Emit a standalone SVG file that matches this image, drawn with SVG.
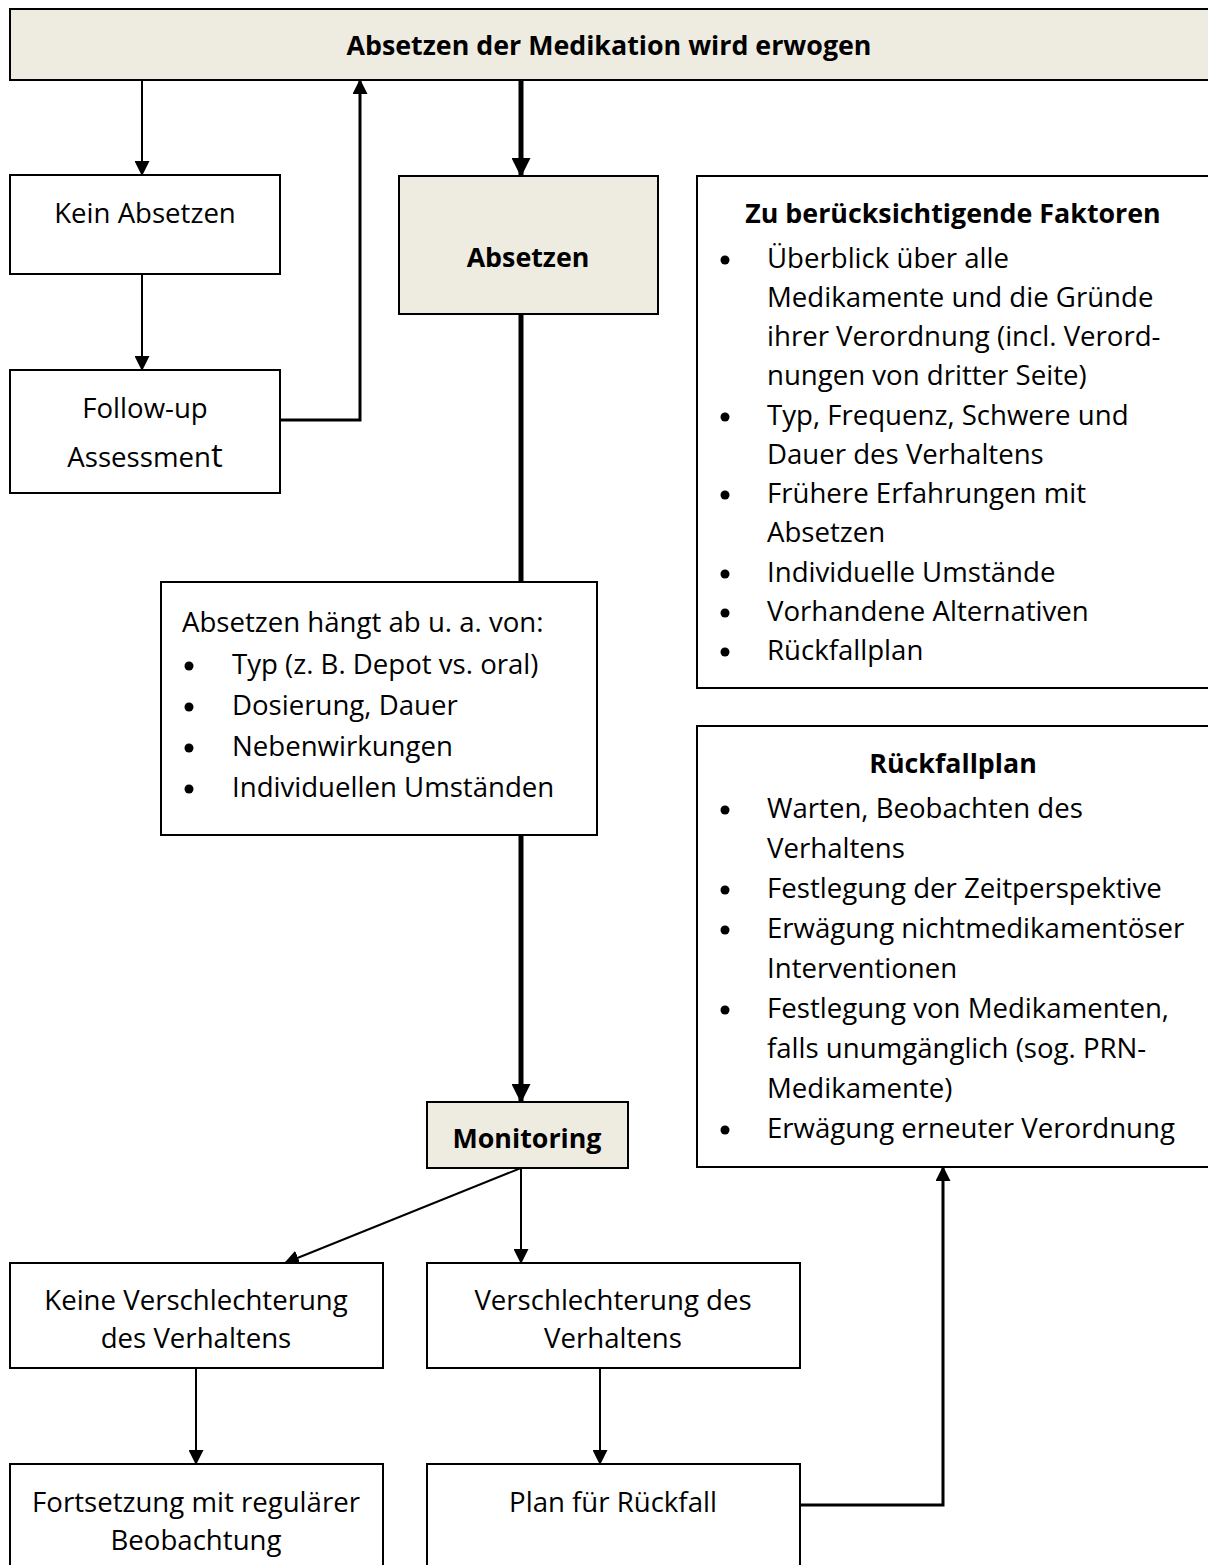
<svg xmlns="http://www.w3.org/2000/svg" width="1208" height="1565" viewBox="0 0 1208 1565">
<style>
text{font-family:"Open Sans",Lato,"Liberation Sans",sans-serif;font-size:27.6px;fill:#000}
.b{font-weight:bold;font-size:26.8px}
.c{text-anchor:middle}
.box{fill:#fff;stroke:#000;stroke-width:2}
.hl{fill:#EEECE1;stroke:#000;stroke-width:2}
.ln{fill:none;stroke:#000;stroke-width:2}
.lnm{fill:none;stroke:#000;stroke-width:3}
.th{fill:none;stroke:#000;stroke-width:5}
</style>
<defs>
<marker id="a" markerUnits="userSpaceOnUse" markerWidth="15" markerHeight="15" refX="14" refY="7.5" orient="auto"><path d="M0,0 L15,7.5 L0,15 z" fill="#000"/></marker>
<marker id="A" markerUnits="userSpaceOnUse" markerWidth="19" markerHeight="19" refX="18" refY="9.5" orient="auto"><path d="M0,0 L19,9.5 L0,19 z" fill="#000"/></marker>
</defs>
<rect width="1208" height="1565" fill="#fff"/>
<g id="connectors">
<line class="ln" x1="142" y1="80" x2="142" y2="175" marker-end="url(#a)"/>
<line class="ln" x1="142" y1="275" x2="142" y2="370" marker-end="url(#a)"/>
<polyline class="lnm" points="280,420 360,420 360,80" marker-end="url(#a)"/>
<line class="th" x1="521" y1="80" x2="521" y2="176" marker-end="url(#A)"/>
<line class="th" x1="521" y1="314" x2="521" y2="582"/>
<line class="th" x1="521" y1="835" x2="521" y2="1102" marker-end="url(#A)"/>
<line class="ln" x1="521" y1="1168" x2="285" y2="1263" marker-end="url(#a)"/>
<line class="ln" x1="521" y1="1168" x2="521" y2="1263" marker-end="url(#a)"/>
<line class="ln" x1="196" y1="1368" x2="196" y2="1464" marker-end="url(#a)"/>
<line class="ln" x1="600" y1="1368" x2="600" y2="1464" marker-end="url(#a)"/>
<polyline class="lnm" points="800,1505 943,1505 943,1167" marker-end="url(#a)"/>
</g>
<g id="n-top">
<rect class="hl" x="10" y="9" width="1210" height="71"/>
<text class="b c" x="609" y="55">Absetzen der Medikation wird erwogen</text>
</g>
<g id="n-kein">
<rect class="box" x="10" y="175" width="270" height="99"/>
<text class="c" x="145" y="223">Kein Absetzen</text>
</g>
<g id="n-followup">
<rect class="box" x="10" y="370" width="270" height="123"/>
<text class="c" x="145" y="418">Follow-up</text>
<text class="c" x="145" y="467">Assessmen<tspan style="font-size:33px">t</tspan></text>
</g>
<g id="n-absetzen">
<rect class="hl" x="399" y="176" width="259" height="138"/>
<text class="b c" x="528" y="267">Absetzen</text>
</g>
<g id="n-abhaengig">
<rect class="box" x="161" y="582" width="436" height="253"/>
<text x="182" y="632">Absetzen hängt ab u. a. von:</text>
<g>
<circle cx="189" cy="666" r="4.5"/><text x="232" y="674">Typ (z. B. Depot vs. oral)</text>
<circle cx="189" cy="707" r="4.5"/><text x="232" y="715">Dosierung, Dauer</text>
<circle cx="189" cy="748" r="4.5"/><text x="232" y="756">Nebenwirkungen</text>
<circle cx="189" cy="789" r="4.5"/><text x="232" y="797">Individuellen Umständen</text>
</g>
</g>
<g id="n-faktoren">
<rect class="box" x="697" y="176" width="520" height="512"/>
<text class="b c" x="953" y="223">Zu berücksichtigende Faktoren</text>
<circle cx="725" cy="260" r="4.5"/><text x="767" y="268">Überblick über alle</text>
<text x="767" y="307">Medikamente und die Gründe</text>
<text x="767" y="346">ihrer Verordnung (incl. Verord-</text>
<text x="767" y="385">nungen von dritter Seite)</text>
<circle cx="725" cy="417" r="4.5"/><text x="767" y="425">Typ, Frequenz, Schwere und</text>
<text x="767" y="464">Dauer des Verhaltens</text>
<circle cx="725" cy="495" r="4.5"/><text x="767" y="503">Frühere Erfahrungen mit</text>
<text x="767" y="542">Absetzen</text>
<circle cx="725" cy="574" r="4.5"/><text x="767" y="582">Individuelle Umstände</text>
<circle cx="725" cy="613" r="4.5"/><text x="767" y="621">Vorhandene Alternativen</text>
<circle cx="725" cy="652" r="4.5"/><text x="767" y="660">Rückfallplan</text>
</g>
<g id="n-rueckfallplan">
<rect class="box" x="697" y="726" width="520" height="441"/>
<text class="b c" x="953" y="773">Rückfallplan</text>
<circle cx="725" cy="810" r="4.5"/><text x="767" y="818">Warten, Beobachten des</text>
<text x="767" y="858">Verhaltens</text>
<circle cx="725" cy="890" r="4.5"/><text x="767" y="898">Festlegung der Zeitperspektive</text>
<circle cx="725" cy="930" r="4.5"/><text x="767" y="938">Erwägung nichtmedikamentöser</text>
<text x="767" y="978">Interventionen</text>
<circle cx="725" cy="1010" r="4.5"/><text x="767" y="1018">Festlegung von Medikamenten,</text>
<text x="767" y="1058">falls unumgänglich (sog. PRN-</text>
<text x="767" y="1098">Medikamente)</text>
<circle cx="725" cy="1130" r="4.5"/><text x="767" y="1138">Erwägung erneuter Verordnung</text>
</g>
<g id="n-monitoring">
<rect class="hl" x="427" y="1102" width="201" height="66"/>
<text class="b c" x="527" y="1148">Monitoring</text>
</g>
<g id="n-keine">
<rect class="box" x="10" y="1263" width="373" height="105"/>
<text class="c" x="196" y="1310">Keine Verschlechterung</text>
<text class="c" x="196" y="1348">des Verhaltens</text>
</g>
<g id="n-verschl">
<rect class="box" x="427" y="1263" width="373" height="105"/>
<text class="c" x="613" y="1310">Verschlechterung des</text>
<text class="c" x="613" y="1348">Verhaltens</text>
</g>
<g id="n-fortsetzung">
<rect class="box" x="10" y="1464" width="373" height="110"/>
<text class="c" x="196" y="1512">Fortsetzung mit regulärer</text>
<text class="c" x="196" y="1550">Beobachtung</text>
</g>
<g id="n-plan">
<rect class="box" x="427" y="1464" width="373" height="110"/>
<text class="c" x="613" y="1512">Plan für Rückfall</text>
</g>
</svg>
